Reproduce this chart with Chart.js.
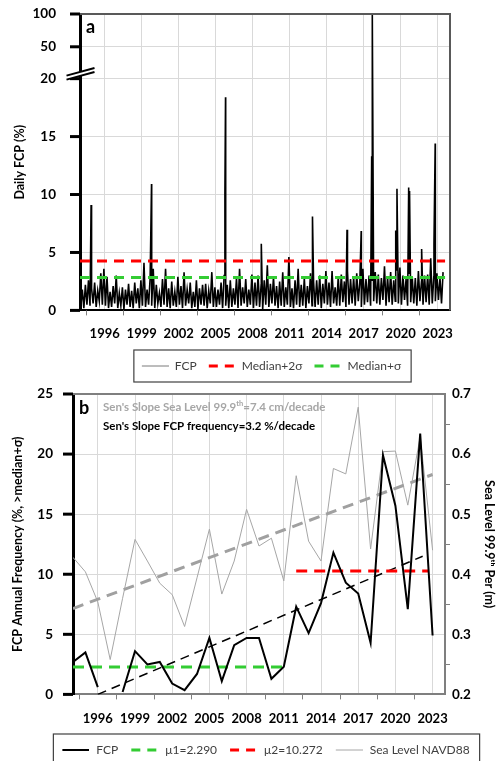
<!DOCTYPE html>
<html>
<head>
<meta charset="utf-8">
<script src="https://cdn.jsdelivr.net/npm/chart.js@4.4.1/dist/chart.umd.min.js"></script>
<style>
  body { margin: 0; background: #fff; }
  canvas { position: absolute; left: 0; }
  #chartA { top: 0; }
  #chartB { top: 380px; }
</style>
</head>
<body>
<canvas id="chartA" width="500" height="388"></canvas>
<canvas id="chartB" width="500" height="386"></canvas>
<script>
// ---- datos panel a (FCP diario, 8 lecturas por año) ----
var dailyStart = 1994;
var dailyPerYear = 8;
var dailyBase = [
  0.3,1.8,0.2,2.2,0.5,2.6,0.4,1.9,   // 1994
  0.6,2.4,0.3,1.7,0.8,3.2,0.5,3.6,   // 1995
  0.4,2.9,0.2,1.6,0.3,2.1,0.6,3.0,   // 1996
  0.2,1.5,0.4,2.0,0.1,1.8,0.5,2.3,   // 1997
  0.3,1.7,0.2,2.4,0.6,1.9,0.2,2.6,   // 1998
  0.4,4.1,0.3,1.8,0.5,2.8,0.4,3.6,   // 1999
  0.2,2.2,0.6,1.5,0.3,2.7,0.5,3.6,   // 2000
  0.3,1.9,0.2,2.5,0.4,1.6,0.3,2.9,   // 2001
  0.5,2.1,0.2,3.3,0.4,1.8,0.6,2.4,   // 2002
  0.2,1.6,0.3,2.6,0.1,1.9,0.5,2.2,   // 2003
  0.4,2.3,0.2,1.7,0.6,3.3,0.3,2.0,   // 2004
  0.3,1.8,0.5,2.4,0.2,3.0,0.4,2.2,   // 2005
  0.2,2.6,0.3,1.9,0.5,2.8,0.2,3.6,   // 2006
  0.4,2.0,0.6,2.7,0.3,1.8,0.5,3.1,   // 2007
  0.2,2.4,0.4,3.0,0.3,2.2,0.1,2.6,   // 2008
  0.5,3.9,0.3,2.3,0.6,2.9,0.4,2.1,   // 2009
  0.2,2.5,0.4,3.3,0.3,2.0,0.5,4.6,   // 2010
  0.3,1.9,0.2,2.6,0.5,3.6,0.3,2.2,   // 2011
  0.4,2.8,0.2,2.1,0.6,3.2,0.4,2.5,   // 2012
  0.3,2.6,0.5,3.0,0.2,2.3,0.6,3.4,   // 2013
  0.5,2.4,0.3,3.4,0.6,2.0,0.4,2.9,   // 2014
  0.4,3.1,0.7,2.5,0.3,3.4,0.5,2.7,   // 2015
  0.6,2.9,0.4,3.2,0.8,2.4,0.3,3.6,   // 2016
  0.5,2.7,0.7,3.0,0.4,2.6,0.8,3.3,   // 2017
  0.6,3.1,0.5,2.8,0.9,3.8,0.4,2.9,   // 2018
  0.7,3.3,0.5,2.6,0.8,3.5,0.6,3.7,   // 2019
  0.5,3.0,0.9,2.7,0.4,3.2,0.7,2.9,   // 2020
  0.6,2.8,0.4,3.4,0.8,2.5,0.5,3.0,   // 2021
  0.7,3.1,0.5,4.5,0.6,2.9,0.8,3.2,   // 2022
  0.9,2.8,0.6,3.3                    // 2023
];
// picos
var spikeDates  = [1994.9, 1999.8, 2005.75, 2005.8, 2008.7, 2012.85, 2015.65, 2016.8, 2017.65, 2017.7, 2019.6, 2019.7, 2020.65, 2020.72, 2021.7, 2022.7, 2022.8];
var spikeValues = [9.1, 10.9, 10.1, 18.4, 5.75, 8.1, 6.95, 6.85, 13.3, 100, 6.9, 10.5, 10.6, 10.3, 5.3, 5.75, 14.4];
var medianPlus2s = 4.27;
var medianPlus1s = 2.83;
var tickValsA = [0, 5, 10, 15, 20, 50, 100];

// ---- datos panel b (anuales) ----
var years = [1994,1995,1996,1997,1998,1999,2000,2001,2002,2003,2004,2005,2006,2007,2008,2009,2010,2011,2012,2013,2014,2015,2016,2017,2018,2019,2020,2021,2022,2023];
var fcpAnnual = [2.7,3.5,0.6,null,0.2,3.6,2.5,2.7,0.9,0.35,1.7,4.7,1.1,4.1,4.7,4.7,1.3,2.3,7.3,5.1,7.6,11.8,9.3,8.4,4.3,19.9,15.7,7.1,21.7,4.9];
var seaLevel = [0.428,0.404,0.354,0.258,0.36,0.458,0.422,0.385,0.366,0.313,0.394,0.475,0.367,0.422,0.508,0.447,0.46,0.389,0.564,0.455,0.422,0.576,0.567,0.678,0.442,0.604,0.605,0.515,0.629,0.44];
var mu1 = 2.290, mu1Years = [1994, 2011];
var mu2 = 10.272, mu2Years = [2012, 2022.7];
var fcpTrendYears = [1996, 2022.2], fcpTrendVals = [0, 11.5];
var seaTrendYears = [1994, 2023], seaTrendVals = [0.343, 0.566];

var yearTicks = [1996,1999,2002,2005,2008,2011,2014,2017,2020,2023];
var minorYearTicks = [1994.5,1997.5,2000.5,2003.5,2006.5,2009.5,2012.5,2015.5,2018.5,2021.5];

var FONT = 'Lato, "Open Sans", sans-serif';
Chart.defaults.font.family = FONT;
Chart.defaults.color = '#000';

// eje roto: 0-20 lineal, luego 50 y 100
function brk(v) {
  if (v <= 20) return v;
  if (v <= 50) return 20 + (v - 20) * 2.75 / 30;
  return 22.75 + (v - 50) * 2.83 / 50;
}

function pairs(xs, ys) {
  return xs.map(function (x, i) { return { x: x, y: ys[i] }; });
}

// muestra de línea para la leyenda (con guiones)
function sample(color, width, dash) {
  var c = document.createElement('canvas');
  c.width = 28; c.height = 6;
  var g = c.getContext('2d');
  g.strokeStyle = color; g.lineWidth = width;
  g.setLineDash(dash || []);
  g.beginPath(); g.moveTo(1, 3); g.lineTo(28, 3); g.stroke();
  return c;
}

var dailyPts = dailyBase.map(function (v, i) {
  return { x: dailyStart + (i + 0.5) / dailyPerYear, y: brk(v) };
});
spikeDates.forEach(function (d, i) { dailyPts.push({ x: d, y: brk(spikeValues[i]) }); });
dailyPts.sort(function (a, b) { return a.x - b.x; });

function hitRange(chart) {
  var hb = chart.legend.legendHitBoxes;
  var r = { l: Infinity, r: -Infinity, t: Infinity, b: -Infinity };
  hb.forEach(function (h) {
    r.l = Math.min(r.l, h.left); r.r = Math.max(r.r, h.left + h.width);
    r.t = Math.min(r.t, h.top); r.b = Math.max(r.b, h.top + h.height);
  });
  return r;
}

// mueve la leyenda (ya colocada) para centrarla en x = cx
function centerLegend(chart, cx) {
  var lg = chart.legend;
  if (!lg || !lg.legendHitBoxes || !lg.legendHitBoxes.length) return;
  var r = hitRange(chart);
  var d = cx - (r.l + r.r) / 2;
  lg.left += d; lg.right += d;
  lg.legendHitBoxes.forEach(function (h) { h.left += d; });
}

function legendBox(chart, padL, padR, padV) {
  if (!chart.legend.legendHitBoxes.length) return;
  var r = hitRange(chart);
  var ctx = chart.ctx;
  ctx.save();
  ctx.strokeStyle = '#404040';
  ctx.lineWidth = 1.2;
  ctx.strokeRect(r.l - padL, r.t - padV, r.r - r.l + padL + padR, r.b - r.t + 2 * padV);
  ctx.restore();
}

function minorTicksX(chart) {
  var ctx = chart.ctx, xs = chart.scales.x, a = chart.chartArea;
  ctx.save();
  ctx.strokeStyle = '#808080';
  ctx.lineWidth = 1;
  minorYearTicks.forEach(function (v) {
    var px = Math.round(xs.getPixelForValue(v)) + 0.5;
    ctx.beginPath(); ctx.moveTo(px, a.bottom); ctx.lineTo(px, a.bottom + 5); ctx.stroke();
  });
  ctx.restore();
}

// marcas mayores negras del eje izquierdo
function majorTicksY(chart) {
  var ctx = chart.ctx, ys = chart.scales.y, a = chart.chartArea;
  ctx.save();
  ctx.strokeStyle = '#000';
  ctx.lineWidth = 3;
  ys.ticks.forEach(function (t) {
    var py = ys.getPixelForValue(t.value);
    ctx.beginPath(); ctx.moveTo(a.left - 10, py); ctx.lineTo(a.left, py); ctx.stroke();
  });
  ctx.restore();
}

function boxTopRight(chart, color) {
  var ctx = chart.ctx, a = chart.chartArea;
  ctx.save();
  ctx.strokeStyle = color;
  ctx.lineWidth = 2;
  ctx.beginPath();
  ctx.moveTo(a.left, a.top); ctx.lineTo(a.right, a.top); ctx.lineTo(a.right, a.bottom);
  ctx.stroke();
  ctx.restore();
}

var legendLabels = {
  usePointStyle: true,
  pointStyleWidth: 28,
  padding: 11,
  color: '#404040',
  font: { size: 12 },
  sort: function (p, q) { return p.datasetIndex - q.datasetIndex; }
};

// ---------------- Panel a ----------------
var panelAPlugin = {
  id: 'panelA',
  afterUpdate: function (chart) { centerLegend(chart, 271); },
  afterDraw: function (chart) {
    var ctx = chart.ctx, a = chart.chartArea, ys = chart.scales.y;
    boxTopRight(chart, '#595959');
    minorTicksX(chart);
    majorTicksY(chart);
    // marca de corte del eje
    var cx = a.left, cy = ys.getPixelForValue(20) - 4.7;
    ctx.save();
    ctx.fillStyle = '#fff';
    ctx.beginPath();
    ctx.moveTo(cx - 13.5, cy + 1.7); ctx.lineTo(cx + 14.5, cy - 6);
    ctx.lineTo(cx + 14.5, cy - 2); ctx.lineTo(cx - 13.5, cy + 5.7);
    ctx.closePath(); ctx.fill();
    ctx.strokeStyle = '#000'; ctx.lineWidth = 2;
    ctx.beginPath(); ctx.moveTo(cx - 13.5, cy + 1.7); ctx.lineTo(cx + 14.5, cy - 6); ctx.stroke();
    ctx.beginPath(); ctx.moveTo(cx - 13.5, cy + 5.7); ctx.lineTo(cx + 14.5, cy - 2); ctx.stroke();
    // letra del panel
    ctx.fillStyle = '#000';
    ctx.font = 'bold 18px ' + FONT;
    ctx.textBaseline = 'alphabetic';
    ctx.fillText('a', a.left + 6, a.top + 19);
    ctx.restore();
    legendBox(chart, 7, 10, 10);
  }
};

new Chart(document.getElementById('chartA'), {
  type: 'line',
  data: {
    datasets: [{
      label: 'FCP',
      data: dailyPts,
      borderColor: '#000',
      borderWidth: 1.6,
      pointRadius: 0,
      pointStyle: sample('#7a7a7a', 1, null),
      order: 2
    }, {
      label: 'Median+2σ',
      data: [{ x: 1994, y: medianPlus2s }, { x: 2023.6, y: medianPlus2s }],
      borderColor: '#ff0000',
      borderWidth: 3,
      borderDash: [10, 7],
      pointRadius: 0,
      pointStyle: sample('#ff0000', 3, [9, 7]),
      order: 1
    }, {
      label: 'Median+σ',
      data: [{ x: 1994, y: medianPlus1s }, { x: 2023.6, y: medianPlus1s }],
      borderColor: '#33cc33',
      borderWidth: 3,
      borderDash: [10, 7],
      pointRadius: 0,
      pointStyle: sample('#33cc33', 3, [9, 7]),
      order: 1
    }]
  },
  options: {
    responsive: false,
    animation: false,
    layout: { padding: { left: 0, right: 50, top: 14, bottom: 6 } },
    plugins: {
      tooltip: { enabled: false },
      legend: { position: 'bottom', labels: legendLabels }
    },
    scales: {
      x: {
        type: 'linear',
        min: 1994, max: 2024,
        afterBuildTicks: function (s) { s.ticks = yearTicks.map(function (v) { return { value: v }; }); },
        afterFit: function (s) { s.height -= 9; },
        ticks: {
          callback: function (v) { return String(v); },
          font: { size: 13, weight: 'bold' },
          maxRotation: 0,
          padding: 16
        },
        grid: { color: '#d9d9d9', drawTicks: false },
        border: { color: '#000', width: 2 }
      },
      y: {
        type: 'linear',
        min: 0, max: brk(100),
        afterBuildTicks: function (s) { s.ticks = tickValsA.map(function (v) { return { value: brk(v) }; }); },
        afterFit: function (s) { s.width = 80; },
        ticks: {
          callback: function (v, i) { return String(tickValsA[i]); },
          font: { size: 13.5, weight: 'bold' },
          padding: 2
        },
        grid: { color: '#d9d9d9', tickLength: 22, tickColor: 'rgba(0,0,0,0)' },
        border: { color: '#000', width: 3 },
        title: {
          display: true,
          text: 'Daily FCP (%)',
          font: { size: 12.5, weight: 'bold' },
          padding: { top: 12, bottom: 0 }
        }
      }
    }
  },
  plugins: [panelAPlugin]
});

// ---------------- Panel b ----------------
var panelBPlugin = {
  id: 'panelB',
  afterUpdate: function (chart) { centerLegend(chart, 265); },
  afterDraw: function (chart) {
    var ctx = chart.ctx, a = chart.chartArea, y2 = chart.scales.y2;
    boxTopRight(chart, '#7f7f7f');
    minorTicksX(chart);
    majorTicksY(chart);
    ctx.save();
    // marcas menores eje derecho
    ctx.strokeStyle = '#808080'; ctx.lineWidth = 1;
    [0.25, 0.35, 0.45, 0.55, 0.65].forEach(function (v) {
      var py = Math.round(y2.getPixelForValue(v)) + 0.5;
      ctx.beginPath(); ctx.moveTo(a.right, py); ctx.lineTo(a.right + 5, py); ctx.stroke();
    });
    // letra y textos de pendiente de Sen
    ctx.fillStyle = '#000';
    ctx.font = 'bold 18px ' + FONT;
    ctx.textBaseline = 'alphabetic';
    ctx.fillText('b', a.left + 6, a.top + 20);
    var x0 = a.left + 30, yA = a.top + 17;
    ctx.font = 'bold 11.5px ' + FONT;
    ctx.fillStyle = '#a6a6a6';
    var t1 = "Sen's Slope Sea Level 99.9";
    ctx.fillText(t1, x0, yA);
    var w1 = ctx.measureText(t1).width;
    ctx.font = 'bold 7.5px ' + FONT;
    ctx.fillText('th', x0 + w1, yA - 5);
    var w2 = ctx.measureText('th').width;
    ctx.font = 'bold 11.5px ' + FONT;
    ctx.fillText('=7.4 cm/decade', x0 + w1 + w2, yA);
    ctx.fillStyle = '#000';
    ctx.fillText("Sen's Slope FCP frequency=3.2 %/decade", x0, yA + 19);
    ctx.restore();
    legendBox(chart, 7, 10, 10);
  }
};

var legendLabelsB = Object.assign({}, legendLabels, {
  pointStyleWidth: 30,
  filter: function (it) { return it.datasetIndex < 4; }
});

new Chart(document.getElementById('chartB'), {
  type: 'line',
  data: {
    datasets: [{
      label: 'FCP',
      data: pairs(years, fcpAnnual),
      borderColor: '#000',
      borderWidth: 2,
      pointRadius: 0,
      pointStyle: sample('#000', 2, null),
      spanGaps: false,
      order: 0
    }, {
      label: 'μ1=2.290',
      data: [{ x: mu1Years[0], y: mu1 }, { x: mu1Years[1], y: mu1 }],
      borderColor: '#33cc33',
      borderWidth: 3,
      borderDash: [11, 7],
      pointRadius: 0,
      pointStyle: sample('#33cc33', 3, [9, 7]),
      order: 1
    }, {
      label: 'μ2=10.272',
      data: [{ x: mu2Years[0], y: mu2 }, { x: mu2Years[1], y: mu2 }],
      borderColor: '#ff0000',
      borderWidth: 3,
      borderDash: [11, 7],
      pointRadius: 0,
      pointStyle: sample('#ff0000', 3, [9, 7]),
      order: 1
    }, {
      label: 'Sea Level NAVD88',
      data: pairs(years, seaLevel),
      yAxisID: 'y2',
      borderColor: '#a6a6a6',
      borderWidth: 1,
      pointRadius: 0,
      pointStyle: sample('#a6a6a6', 1, null),
      order: 4
    }, {
      label: 'seaTrend',
      data: pairs(seaTrendYears, seaTrendVals),
      yAxisID: 'y2',
      borderColor: '#a0a0a0',
      borderWidth: 3,
      borderDash: [11, 7],
      pointRadius: 0,
      order: 3
    }, {
      label: 'fcpTrend',
      data: pairs(fcpTrendYears, fcpTrendVals),
      borderColor: '#000',
      borderWidth: 1.5,
      borderDash: [9, 6],
      pointRadius: 0,
      order: 2
    }]
  },
  options: {
    responsive: false,
    animation: false,
    layout: { padding: { left: 0, right: 0, top: 14, bottom: 0 } },
    plugins: {
      tooltip: { enabled: false },
      legend: { position: 'bottom', labels: legendLabelsB }
    },
    scales: {
      x: {
        type: 'linear',
        min: 1994, max: 2024,
        afterBuildTicks: function (s) { s.ticks = yearTicks.map(function (v) { return { value: v }; }); },
        afterFit: function (s) { s.height -= 11; },
        ticks: {
          callback: function (v) { return String(v); },
          font: { size: 13, weight: 'bold' },
          maxRotation: 0,
          padding: 17
        },
        grid: { color: '#d9d9d9', drawTicks: false },
        border: { color: '#7f7f7f', width: 2 }
      },
      y: {
        type: 'linear',
        position: 'left',
        min: 0, max: 25,
        afterFit: function (s) { s.width = 73; },
        ticks: { stepSize: 5, font: { size: 13.5, weight: 'bold' }, padding: 2 },
        grid: { color: '#d9d9d9', tickLength: 18, tickColor: 'rgba(0,0,0,0)' },
        border: { color: '#000', width: 3 },
        title: {
          display: true,
          text: 'FCP Annual Frequency (%, >median+σ)',
          font: { size: 12.5, weight: 'bold' },
          padding: { top: 10, bottom: 0 }
        }
      },
      y2: {
        type: 'linear',
        position: 'right',
        min: 0.2, max: 0.7,
        afterFit: function (s) { s.width = 55; },
        ticks: {
          stepSize: 0.1,
          callback: function (v) { return v.toFixed(1); },
          font: { size: 13.5, weight: 'bold' },
          padding: 1
        },
        grid: { drawOnChartArea: false, drawTicks: true, tickLength: 6, tickColor: 'rgba(0,0,0,0)' },
        border: { color: '#7f7f7f', width: 2 },
        title: {
          display: true,
          text: 'Sea Level 99.9ᵗʰ Per (m)',
          font: { size: 12.5, weight: 'bold' },
          padding: { top: 3, bottom: 0 }
        }
      }
    }
  },
  plugins: [panelBPlugin]
});
</script>
</body>
</html>
